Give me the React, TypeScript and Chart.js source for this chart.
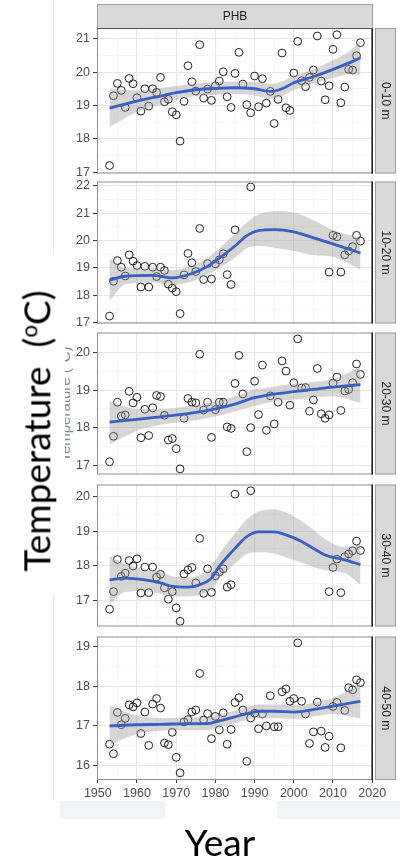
import React, { useEffect, useRef } from "react";
import { Chart, registerables } from "chart.js";

Chart.register(...registerables);

// ---------- data ----------
const years = [
  1953, 1954, 1955, 1956, 1957, 1958, 1959, 1960, 1961, 1962,
  1963, 1964, 1965, 1966, 1967, 1968, 1969, 1970, 1971, 1972,
  1973, 1974, 1975, 1976, 1977, 1978, 1979, 1980, 1981, 1982,
  1983, 1984, 1985, 1986, 1987, 1988, 1989, 1990, 1991, 1992,
  1993, 1994, 1995, 1996, 1997, 1998, 1999, 2000, 2001, 2002,
  2003, 2004, 2005, 2006, 2007, 2008, 2009, 2010, 2011, 2012,
  2013, 2014, 2015, 2016, 2017,
];

const temp0to10 = [
  17.2, 19.29, 19.66, 19.45, 18.94, 19.81, 19.65, 19.23, 18.83, 19.5,
  18.98, 19.5, 19.39, 19.84, 19.11, 19.18, 18.81, 18.72, 17.93, 19.12,
  20.19, 19.71, 19.43, 20.82, 19.22, 19.49, 19.15, 19.59, 19.73, 20.01,
  19.26, 18.94, 19.96, 20.59, 19.64, 19.02, 18.78, 19.88, 18.96, 19.8,
  19.07, 19.42, 18.46, 19.18, 20.57, 18.93, 18.85, 19.97, 20.92, 19.74,
  19.56, 19.84, 20.06, 21.08, 19.73, 19.17, 19.59, 20.68, 21.12, 19.08,
  19.55, 20.08, 20.06, 20.49, 20.88,
];

const temp10to20 = [
  17.25, 18.52, 19.27, 19.03, 18.71, 19.48, 19.25, 19.09, 18.31, 19.06,
  18.31, 19.03, 18.69, 19.03, 18.91, 18.41, 18.27, 18.14, 17.34, 18.75,
  19.53, 19.19, 18.87, 20.44, 18.58, 19.16, 18.6, 19.15, 19.3, 19.52,
  18.76, 18.4, 20.39, null, null, null, 21.95, null, null, null,
  null, null, null, null, null, null, null, null, null, null,
  null, null, null, null, null, null, 18.85, 20.19, 20.14, 18.85,
  19.48, 19.62, 19.78, 20.19, 19.98,
];

const temp20to30 = [
  17.09, 17.77, 18.68, 18.31, 18.34, 18.97, 18.66, 18.81, 17.73, 18.49,
  17.79, 18.53, 18.86, 18.83, 18.33, 17.67, 17.71, 17.44, 16.9, 18.25,
  18.78, 18.68, 18.66, 19.96, 18.47, 18.68, 17.74, 18.48, 18.68, 18.68,
  18.02, 17.98, 19.18, 19.93, 18.9, 17.36, 18.0, 19.24, 18.35, 19.67,
  17.93, 18.85, 18.1, 18.68, 19.78, 19.51, 18.6, 19.2, 20.37, 19.06,
  19.07, 18.44, 18.74, 19.58, 18.37, 18.25, 18.34, 19.19, 19.35, 18.46,
  18.98, 19.02, 19.2, 19.7, 19.42,
];

const temp30to40 = [
  16.75, 17.26, 18.19, 17.7, 17.79, 18.16, 18.0, 18.21, 17.22, 17.97,
  17.23, 17.97, 17.68, 17.76, 17.37, 17.04, 17.26, 16.79, 16.4, 17.77,
  17.89, 17.96, 17.51, 18.8, 17.21, 17.92, 17.24, 17.72, 17.83, 17.92,
  17.39, 17.46, 20.08, null, null, null, 20.18, null, null, null,
  null, null, null, null, null, null, null, null, null, null,
  null, null, null, null, null, null, 17.26, 17.96, 18.2, 17.23,
  18.27, 18.35, 18.44, 18.72, 18.45,
];

const temp40to50 = [
  16.54, 16.3, 17.34, 17.03, 17.19, 17.53, 17.48, 17.58, 16.81, 17.35,
  16.51, 17.55, 17.69, 17.45, 16.57, 16.53, 16.84, 16.21, 15.82, 17.1,
  17.16, 17.35, 17.4, 18.32, 17.15, 17.31, 16.68, 17.24, 16.9, 17.33,
  16.54, 16.91, 17.59, 17.71, 17.4, 16.11, 17.2, 17.32, 16.93, 17.3,
  17.0, 17.76, 16.98, 16.98, 17.86, 17.93, 17.62, 17.69, 19.09, 17.62,
  17.3, 16.56, 16.85, 17.6, 16.87, 16.46, 16.74, 17.49, 17.59, 16.45,
  17.39, 17.96, 17.91, 18.16, 18.09,
];

// loess fit (mean + 95% band)
const fit0to10Years = [1953, 1960, 1966, 1970, 1975, 1980, 1985, 1990, 1994, 1997, 2000, 2005, 2010, 2015, 2017];
const fit0to10Mid = [18.92, 19.13, 19.28, 19.38, 19.47, 19.51, 19.53, 19.5, 19.42, 19.5, 19.68, 19.86, 20.08, 20.32, 20.43];
const fit0to10Upper = [19.5, 19.45, 19.52, 19.58, 19.65, 19.7, 19.72, 19.7, 19.65, 19.72, 19.9, 20.08, 20.35, 20.7, 20.95];
const fit0to10Lower = [18.35, 18.8, 19.03, 19.18, 19.28, 19.32, 19.34, 19.3, 19.2, 19.28, 19.46, 19.64, 19.82, 19.94, 19.9];

const fit10to20Years = [1953, 1957, 1964, 1969, 1974, 1978, 1981, 1985, 1988, 1991, 1995, 2000, 2005, 2010, 2017];
const fit10to20Mid = [18.56, 18.7, 18.73, 18.64, 18.8, 19.06, 19.36, 19.8, 20.18, 20.36, 20.4, 20.32, 20.1, 19.88, 19.54];
const fit10to20Upper = [19.35, 19.0, 18.98, 18.92, 19.08, 19.38, 19.72, 20.25, 20.65, 20.95, 21.08, 21.02, 20.75, 20.38, 20.1];
const fit10to20Lower = [17.82, 18.4, 18.48, 18.38, 18.52, 18.75, 19.0, 19.38, 19.72, 19.8, 19.74, 19.62, 19.47, 19.4, 18.95];

const fit20to30Years = [1953, 1960, 1966, 1972, 1976, 1980, 1985, 1990, 1994, 2000, 2005, 2010, 2017];
const fit20to30Mid = [18.15, 18.22, 18.29, 18.36, 18.42, 18.5, 18.63, 18.8, 18.88, 18.96, 19.02, 19.08, 19.15];
const fit20to30Upper = [18.72, 18.5, 18.5, 18.56, 18.62, 18.7, 18.83, 19.02, 19.08, 19.17, 19.22, 19.3, 19.62];
const fit20to30Lower = [17.55, 17.92, 18.08, 18.16, 18.22, 18.3, 18.43, 18.58, 18.68, 18.75, 18.8, 18.84, 18.66];

const fit30to40Years = [1953, 1957, 1962, 1966, 1969, 1973, 1976, 1979, 1981, 1985, 1988, 1991, 1995, 1998, 2002, 2005, 2008, 2013, 2017];
const fit30to40Mid = [17.6, 17.65, 17.6, 17.51, 17.41, 17.39, 17.46, 17.65, 17.99, 18.51, 18.85, 18.99, 18.99, 18.9, 18.71, 18.51, 18.32, 18.18, 18.04];
const fit30to40Upper = [18.3, 18.05, 17.92, 17.82, 17.7, 17.66, 17.75, 17.98, 18.35, 18.95, 19.35, 19.58, 19.64, 19.55, 19.3, 19.05, 18.78, 18.55, 18.62];
const fit30to40Lower = [16.88, 17.25, 17.28, 17.2, 17.12, 17.12, 17.17, 17.32, 17.62, 18.07, 18.35, 18.4, 18.36, 18.25, 18.1, 17.97, 17.88, 17.8, 17.45];

const fit40to50Years = [1953, 1960, 1966, 1974, 1978, 1981, 1985, 1988, 1991, 1995, 2000, 2005, 2010, 2017];
const fit40to50Mid = [17.0, 17.03, 17.04, 17.06, 17.06, 17.13, 17.23, 17.31, 17.37, 17.37, 17.35, 17.41, 17.5, 17.62];
const fit40to50Upper = [17.5, 17.26, 17.2, 17.22, 17.22, 17.29, 17.39, 17.47, 17.54, 17.54, 17.52, 17.58, 17.7, 18.06];
const fit40to50Lower = [16.52, 16.8, 16.88, 16.9, 16.9, 16.97, 17.07, 17.15, 17.2, 17.2, 17.18, 17.24, 17.3, 17.18];

const xMajorTicks = [1950, 1960, 1970, 1980, 1990, 2000, 2010, 2020];
const depthLabels = ["0-10 m", "10-20 m", "20-30 m", "30-40 m", "40-50 m"];
const stationLabel = "PHB";

// ---------- layout (not data) ----------
type PanelCfg = {
  strip: string;
  vals: (number | null)[];
  fy: number[];
  fm: number[];
  fu: number[];
  fl: number[];
  yMin: number;
  yMax: number;
  top: number;
  bottom: number;
  first: boolean;
  last: boolean;
};

const panels: PanelCfg[] = [
  { strip: depthLabels[0], vals: temp0to10, fy: fit0to10Years, fm: fit0to10Mid, fu: fit0to10Upper, fl: fit0to10Lower, yMin: 16.96, yMax: 21.32, top: 28, bottom: 174, first: true, last: false },
  { strip: depthLabels[1], vals: temp10to20, fy: fit10to20Years, fm: fit10to20Mid, fu: fit10to20Upper, fl: fit10to20Lower, yMin: 16.98, yMax: 22.15, top: 181, bottom: 324, first: false, last: false },
  { strip: depthLabels[2], vals: temp20to30, fy: fit20to30Years, fm: fit20to30Mid, fu: fit20to30Upper, fl: fit20to30Lower, yMin: 16.75, yMax: 20.54, top: 332, bottom: 475, first: false, last: false },
  { strip: depthLabels[3], vals: temp30to40, fy: fit30to40Years, fm: fit30to40Mid, fu: fit30to40Upper, fl: fit30to40Lower, yMin: 16.25, yMax: 20.36, top: 484, bottom: 627, first: false, last: false },
  { strip: depthLabels[4], vals: temp40to50, fy: fit40to50Years, fm: fit40to50Mid, fu: fit40to50Upper, fl: fit40to50Lower, yMin: 15.64, yMax: 19.25, top: 636, bottom: 780, first: false, last: true },
];

const AXIS_FONT = '"Liberation Sans", Arial, sans-serif';

const panelDeco = {
  id: "panelDeco",
  afterDraw(chart: any, _args: any, opts: any) {
    const { ctx, chartArea: a } = chart;
    ctx.save();
    // panel border
    ctx.strokeStyle = "#8f8f8f";
    ctx.lineWidth = 1;
    ctx.strokeRect(a.left + 0.5, a.top + 0.5, a.right - a.left - 1, a.bottom - a.top - 1);
    ctx.strokeStyle = "#222";
    ctx.lineWidth = 1.6;
    ctx.beginPath();
    ctx.moveTo(a.right - 0.8, a.top);
    ctx.lineTo(a.right - 0.8, a.bottom);
    ctx.stroke();
    // right strip
    const sx = a.right + 2;
    const sw = 21;
    ctx.fillStyle = "#d9d9d9";
    ctx.fillRect(sx, a.top, sw, a.bottom - a.top);
    ctx.strokeStyle = "#a0a0a0";
    ctx.lineWidth = 1;
    ctx.strokeRect(sx + 0.5, a.top + 0.5, sw - 1, a.bottom - a.top - 1);
    ctx.save();
    ctx.translate(sx + sw / 2, (a.top + a.bottom) / 2);
    ctx.rotate(Math.PI / 2);
    ctx.fillStyle = "#1a1a1a";
    ctx.font = `12px ${AXIS_FONT}`;
    ctx.textAlign = "center";
    ctx.textBaseline = "middle";
    ctx.fillText(opts.label, 0, 0);
    ctx.restore();
    // top strip
    if (opts.title) {
      const ty = 4;
      const th = a.top - ty;
      ctx.fillStyle = "#d9d9d9";
      ctx.fillRect(a.left, ty, a.right - a.left, th);
      ctx.strokeStyle = "#a0a0a0";
      ctx.lineWidth = 1;
      ctx.strokeRect(a.left + 0.5, ty + 0.5, a.right - a.left - 1, th);
      ctx.strokeStyle = "#555";
      ctx.beginPath();
      ctx.moveTo(a.left, a.top + 0.5);
      ctx.lineTo(a.right, a.top + 0.5);
      ctx.stroke();
      ctx.fillStyle = "#1a1a1a";
      ctx.font = `12px ${AXIS_FONT}`;
      ctx.textAlign = "center";
      ctx.textBaseline = "middle";
      ctx.fillText(opts.title, (a.left + a.right) / 2, ty + th / 2 + 1);
    }
    ctx.restore();
  },
};

function PanelChart({ p }: { p: PanelCfg }) {
  const ref = useRef<HTMLCanvasElement>(null);
  const padTop = p.first ? 28 : 10;
  const xH = p.last ? 22 : 0;
  const padBottom = p.last ? 2 : 10;
  const canvasTop = p.top - padTop;
  const canvasH = padTop + (p.bottom - p.top) + xH + padBottom;

  useEffect(() => {
    const pts = years
      .map((x, i) => ({ x, y: p.vals[i] }))
      .filter((d) => d.y !== null);
    const chart = new Chart(ref.current as HTMLCanvasElement, {
      type: "line",
      data: {
        datasets: [
          {
            label: "fit",
            data: p.fy.map((x, i) => ({ x, y: p.fm[i] })),
            borderColor: "#3b60c4",
            borderWidth: 2.8,
            pointRadius: 0,
            fill: false,
            cubicInterpolationMode: "monotone",
          },
          {
            label: "upper",
            data: p.fy.map((x, i) => ({ x, y: p.fu[i] })),
            borderWidth: 0,
            borderColor: "rgba(0,0,0,0)",
            pointRadius: 0,
            fill: "+1",
            backgroundColor: "rgba(153,153,153,0.4)",
            cubicInterpolationMode: "monotone",
          },
          {
            label: "lower",
            data: p.fy.map((x, i) => ({ x, y: p.fl[i] })),
            borderWidth: 0,
            borderColor: "rgba(0,0,0,0)",
            pointRadius: 0,
            fill: false,
            cubicInterpolationMode: "monotone",
          },
          {
            type: "scatter",
            label: "obs",
            data: pts as any,
            showLine: false,
            pointRadius: 3.9,
            pointStyle: "circle",
            borderColor: "#1f1f1f",
            borderWidth: 1,
            backgroundColor: "rgba(0,0,0,0)",
          } as any,
        ],
      },
      options: {
        responsive: false,
        animation: false,
        events: [],
        layout: { padding: { top: padTop, bottom: padBottom, left: 0, right: 27 } },
        plugins: {
          legend: { display: false },
          tooltip: { enabled: false },
          panelDeco: { label: p.strip, title: p.first ? stationLabel : null },
        } as any,
        scales: {
          x: {
            type: "linear",
            min: 1949.8,
            max: 2020.2,
            afterFit: (s: any) => {
              s.height = xH;
            },
            border: { display: false },
            ticks: {
              display: p.last,
              stepSize: 5,
              includeBounds: false,
              autoSkip: false,
              maxRotation: 0,
              padding: 3,
              color: "#4d4d4d",
              font: { family: AXIS_FONT, size: 12.5 },
              callback: (v: any) => (xMajorTicks.includes(Number(v)) ? String(v) : ""),
            },
            grid: {
              drawTicks: p.last,
              tickLength: 3,
              color: (c: any) => (c.tick && c.tick.value % 10 === 0 ? "#e6e6e6" : "#f3f3f3"),
              lineWidth: (c: any) => (c.tick && c.tick.value % 10 === 0 ? 1.1 : 0.7),
              tickColor: (c: any) => (c.tick && c.tick.value % 10 === 0 ? "#333" : "rgba(0,0,0,0)"),
              tickWidth: 1,
            },
          },
          y: {
            type: "linear",
            min: p.yMin,
            max: p.yMax,
            afterFit: (s: any) => {
              s.width = 97;
            },
            border: { display: false },
            ticks: {
              stepSize: 0.5,
              includeBounds: false,
              autoSkip: false,
              padding: 3,
              color: "#4d4d4d",
              font: { family: AXIS_FONT, size: 12.5 },
              callback: (v: any) => (Number.isInteger(Number(v)) ? String(v) : ""),
            },
            grid: {
              drawTicks: true,
              tickLength: 4,
              color: (c: any) => (c.tick && Number.isInteger(c.tick.value) ? "#e6e6e6" : "#f3f3f3"),
              lineWidth: (c: any) => (c.tick && Number.isInteger(c.tick.value) ? 1.1 : 0.7),
              tickColor: (c: any) => (c.tick && Number.isInteger(c.tick.value) ? "#333" : "rgba(0,0,0,0)"),
              tickWidth: 1,
            },
          },
        },
      } as any,
      plugins: [panelDeco as any],
    });
    return () => chart.destroy();
  }, []);

  return (
    <canvas
      ref={ref}
      width={400}
      height={canvasH}
      style={{ position: "absolute", left: 0, top: canvasTop, width: 400, height: canvasH }}
    />
  );
}

export default function App() {
  return (
    <div
      style={{
        position: "absolute",
        left: 0,
        top: 0,
        width: 400,
        height: 860,
        background: "#fff",
        overflow: "hidden",
      }}
    >
      {/* faint slide artefacts */}
      <div style={{ position: "absolute", left: 53, top: 0, width: 1, height: 800, background: "#e8e8e8" }} />
      <div
        style={{
          position: "absolute",
          left: 64,
          top: 404,
          transform: "translate(-50%, -50%) rotate(-90deg)",
          font: `15px ${AXIS_FONT}`,
          lineHeight: "17px",
          color: "#8a8a8a",
          whiteSpace: "nowrap",
        }}
      >
        Temperature (°C)
      </div>
      <div style={{ position: "absolute", left: 0, top: 255, width: 65, height: 340, background: "#fff" }} />

      {panels.map((p) => (
        <PanelChart key={p.strip} p={p} />
      ))}

      <div style={{ position: "absolute", left: 60, top: 801, width: 340, height: 18, background: "#f3f4f6" }} />
      <div style={{ position: "absolute", left: 165, top: 800, width: 112, height: 20, background: "#fff" }} />

      <div
        style={{
          position: "absolute",
          left: 33,
          top: 431,
          transform: "translate(-50%, -50%) rotate(-90deg)",
          fontFamily: "Lato, 'Open Sans', sans-serif",
          fontSize: 37,
          lineHeight: "44px",
          color: "#000",
          whiteSpace: "nowrap",
        }}
      >
        Temperature&nbsp;&nbsp;(<sup style={{ fontSize: "0.6em", verticalAlign: "0.6em" }}>o</sup>C)
      </div>
      <div
        style={{
          position: "absolute",
          left: 220,
          top: 842,
          transform: "translate(-50%, -50%)",
          fontFamily: "Lato, 'Open Sans', sans-serif",
          fontSize: 37,
          lineHeight: "44px",
          color: "#000",
          whiteSpace: "nowrap",
        }}
      >
        Year
      </div>
    </div>
  );
}
